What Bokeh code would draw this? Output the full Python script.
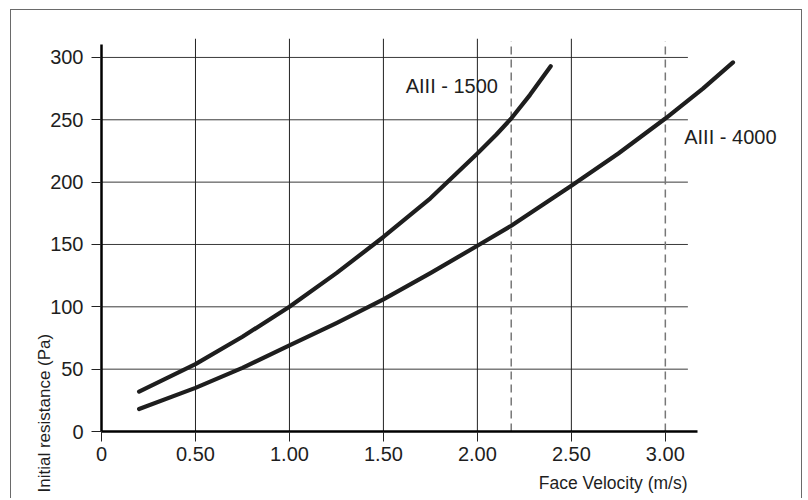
from bokeh.plotting import figure
from bokeh.models import FixedTicker, Title
from bokeh.core.properties import value
from bokeh.embed import file_html
from bokeh.resources import INLINE

# ---- data ----
v1500 = [0.2, 0.5, 0.75, 1.0, 1.25, 1.5, 1.75, 2.0, 2.1, 2.18, 2.28, 2.39]
r1500 = [32, 54, 76, 100, 127, 156, 187, 223, 238, 251, 270, 293]
v4000 = [0.2, 0.5, 0.75, 1.0, 1.25, 1.5, 1.75, 2.0, 2.18, 2.25, 2.5, 2.75, 3.0, 3.2, 3.36]
r4000 = [18, 35, 51, 69, 87, 106, 127, 149, 165, 172, 197, 223, 251, 275, 296]

label_x = [1.864, 3.346]
label_y = [277, 236]
label_text = ["AIII - 1500", "AIII - 4000"]

x_ticks = [0, 0.5, 1.0, 1.5, 2.0, 2.5, 3.0]
x_tick_labels = ["0", "0.50", "1.00", "1.50", "2.00", "2.50", "3.00"]
y_ticks = [0, 50, 100, 150, 200, 250, 300]
y_tick_labels = ["0", "50", "100", "150", "200", "250", "300"]

solid_vgrid = [0.5, 1.0, 1.5, 2.0, 2.5]
dashed_vgrid = [2.18, 3.0]
hgrid = [50, 100, 150, 200, 250, 300]
grid_x_end = 3.12
vgrid_top = 315
dashed_top = 313

x_label = "Face Velocity (m/s)"
y_label = "Initial resistance (Pa)"

FONT = "Liberation Sans"
INK = "#1e1e1e"

p = figure(width=792, height=489, x_range=(0, 3.65), y_range=(0, 320),
           output_backend="svg", toolbar_location=None,
           min_border_left=90, min_border_right=16,
           min_border_top=22, min_border_bottom=68,
           margin=(9, 0, 0, 10))
p.styles = {"border-left": "1px solid #6a6a6a",
            "border-top": "1px solid #6a6a6a",
            "border-right": "1px solid #6a6a6a"}
p.outline_line_color = None
p.xgrid.visible = False
p.ygrid.visible = False
p.background_fill_color = "white"
p.border_fill_color = "white"

# grid lines
p.segment(x0=[0] * len(hgrid), y0=hgrid, x1=[grid_x_end] * len(hgrid), y1=hgrid,
          line_color="#3a3a3a", line_width=1)
p.segment(x0=solid_vgrid, y0=[0] * len(solid_vgrid), x1=solid_vgrid,
          y1=[vgrid_top] * len(solid_vgrid), line_color="#222222", line_width=1)
p.segment(x0=dashed_vgrid, y0=[0] * len(dashed_vgrid), x1=dashed_vgrid,
          y1=[dashed_top] * len(dashed_vgrid), line_color="#777777",
          line_width=1.5, line_dash="8 5")

# curves
p.line(v1500, r1500, line_color=INK, line_width=4.2, line_cap="round", line_join="round")
p.line(v4000, r4000, line_color=INK, line_width=4.2, line_cap="round", line_join="round")

p.text(x=label_x, y=label_y, text=label_text, text_font=value(FONT),
       text_font_size="20px", text_color=INK, text_align="center",
       text_baseline="middle")

for ax, ticks, labels, bnd in ((p.xaxis[0], x_ticks, x_tick_labels, (0, 3.17)),
                              (p.yaxis[0], y_ticks, y_tick_labels, (0, 310))):
    ax.ticker = FixedTicker(ticks=ticks)
    ax.major_label_overrides = {t: l for t, l in zip(ticks, labels)}
    ax.bounds = bnd
    ax.axis_line_color = "black"
    ax.axis_line_width = 2.5
    ax.major_tick_in = 0
    ax.major_tick_out = 10
    ax.major_tick_line_color = "#222222"
    ax.major_tick_line_width = 1
    ax.minor_tick_line_color = None
    ax.major_label_text_font = FONT
    ax.major_label_text_font_size = "20px"
    ax.major_label_text_color = INK
p.xaxis[0].major_label_standoff = 5
p.yaxis[0].major_label_standoff = 8

# axis titles, placed as side-panel titles
p.add_layout(Title(text=x_label, align="right", offset=100, vertical_align="bottom",
                   standoff=14, text_font=FONT, text_font_size="17.5px",
                   text_font_style="normal", text_color=INK), "below")
p.add_layout(Title(text=y_label, align="left", offset=-61, vertical_align="bottom",
                   standoff=-12, text_font=FONT, text_font_size="17px",
                   text_font_style="normal", text_color=INK), "left")

open("out.html", "w").write(file_html(p, INLINE))
